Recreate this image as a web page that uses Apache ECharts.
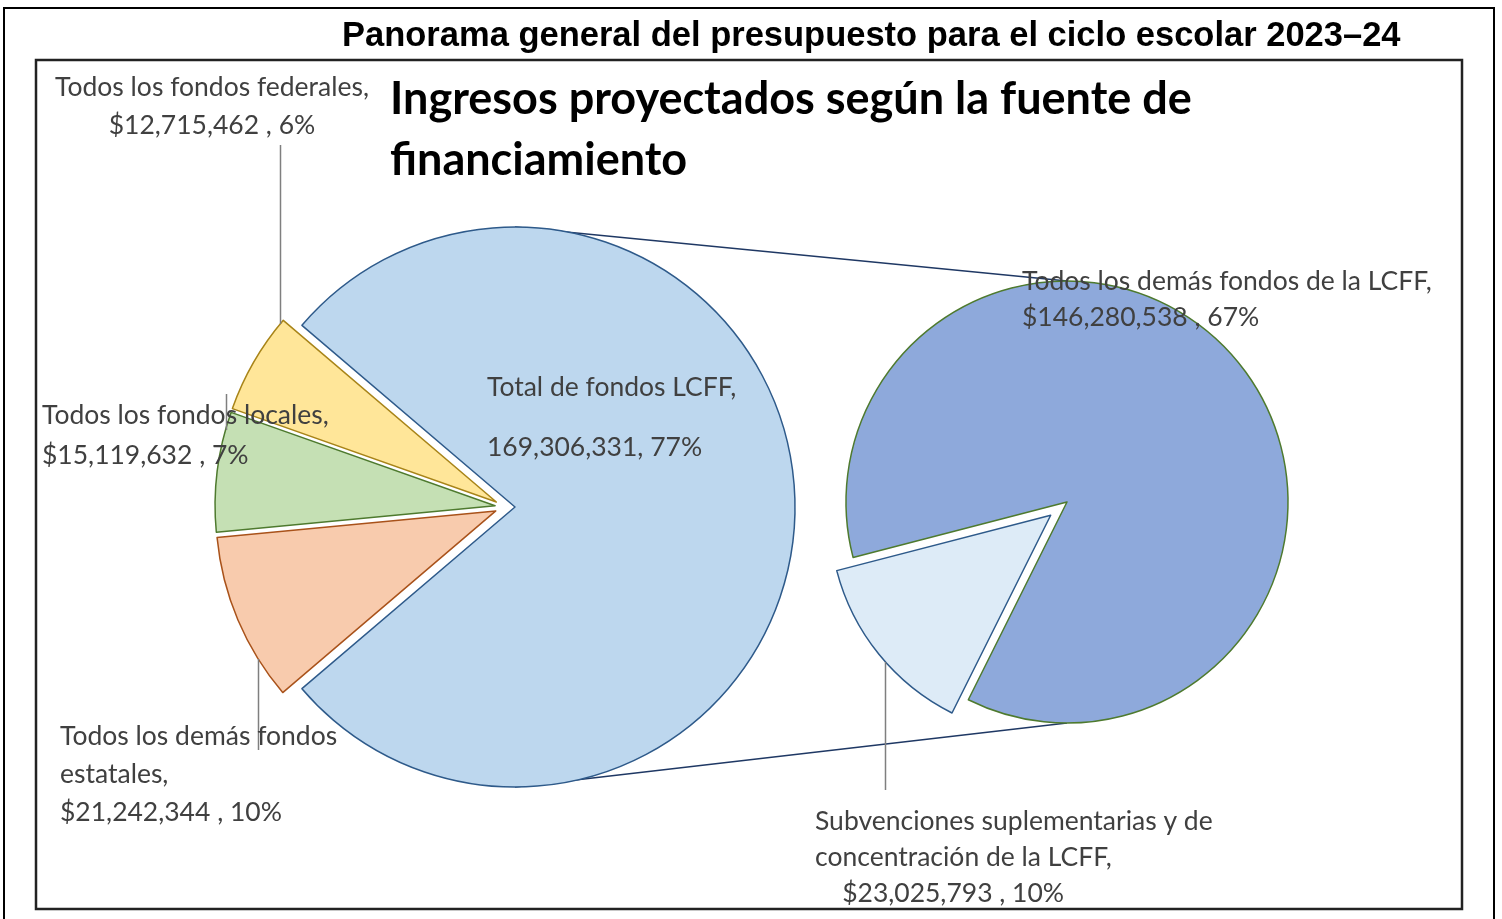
<!DOCTYPE html>
<html><head><meta charset="utf-8">
<script src="https://cdn.jsdelivr.net/npm/echarts@6/dist/echarts.min.js"></script>
<style>html,body{margin:0;padding:0;background:#fff}#c{width:1502px;height:919px}</style>
</head><body><div id="c"></div>
<script>
// ---- data ----
const mainTitle = 'Panorama general del presupuesto para el ciclo escolar 2023–24';
const subTitle = 'Ingresos proyectados según la fuente de\nfinanciamiento';
const mainCategories = ['Total de fondos LCFF', 'Todos los demás fondos estatales', 'Todos los fondos locales', 'Todos los fondos federales'];
const mainLabelNames = ['Total de fondos LCFF,\n', 'Todos los demás fondos\nestatales,', 'Todos los fondos locales,', 'Todos los fondos federales,'];
const mainValues = [169306331, 21242344, 15119632, 12715462];
const mainPercents = ['77%', '10%', '7%', '6%'];
const lcffCategories = ['Subvenciones suplementarias y de concentración de la LCFF', 'Todos los demás fondos de la LCFF'];
const lcffLabelNames = ['Subvenciones suplementarias y de\nconcentración de la LCFF,', 'Todos los demás fondos de la LCFF,'];
const lcffValues = [23025793, 146280538];
const lcffPercents = ['10%', '67%'];

// ---- styles / layout ----
const mainColors = ['#BDD7EE', '#F8CBAD', '#C5E0B4', '#FFE699'];
const mainBorders = ['#2E5A8A', '#A9521A', '#4E7A2E', '#A88418'];
const mainPrefix = ['', '$', '$', '$'];
const mainSep = [', ', ' , ', ' , ', ' , '];
// label block placement and leader line (fraction along the slice arc, end y)
const mainLabelPos = [
  {x: 487, y: 372, align: 'left', lh: 30, lead: null},
  {x: 60, y: 717, align: 'left', lh: 38, lead: {f: 0.24, y: 750}},
  {x: 42, y: 395, align: 'left', lh: 40, lead: {f: 0.85, y: 394}},
  {x: 212, y: 68, align: 'center', lh: 38, lead: {f: 0.95, y: 145}}
];
const lcffColors = ['#DDEBF7', '#8EA9DB'];
const lcffBorders = ['#2E5A8A', '#4E7A2E'];
const lcffPrefix = ['    $', '$'];
const lcffLabelPos = [
  {x: 815, y: 803, align: 'left', lh: 36, lead: {f: 0.45, y: 790}},
  {x: 1022, y: 263, align: 'left', lh: 36, lead: null}
];
const L = {cx: 505, cy: 507, r: 280, off: 10};
const R = {cx: 1067, cy: 502, r: 221, off: 21, mid: 219};
const labelFont = 'Lato';
const labelSize = 26.5;
const labelColor = '#404040';
const fmt = v => v.toLocaleString('en-US');

const mainTotal = mainValues.reduce((a, b) => a + b, 0);
const lcffTotal = lcffValues.reduce((a, b) => a + b, 0);
const mainStart = 360 * mainValues[0] / mainTotal / 2;
const lcffStart = R.mid + 360 * lcffValues[0] / lcffTotal / 2;

function item(name, value, color, border, selected) {
  const st = {color: color, borderColor: border, borderWidth: 1.5};
  return {
    name: name, value: value, selected: selected,
    itemStyle: st, select: {itemStyle: st}, emphasis: {disabled: true}
  };
}
const mainData = mainValues.map((v, i) => item(mainCategories[i], v, mainColors[i], mainBorders[i], true));
const lcffData = lcffValues.map((v, i) => item(lcffCategories[i], v, lcffColors[i], lcffBorders[i], i === 0));

// slice geometry, same rule as the pie series (clockwise from startAngle, selected slices offset)
function sliceGeom(values, start, P, selectedFlags) {
  const tot = values.reduce((a, b) => a + b, 0);
  let a = start;
  return values.map((v, i) => {
    const span = 360 * v / tot;
    const a0 = a, a1 = a - span;
    a = a1;
    const mid = (a0 + a1) / 2 * Math.PI / 180;
    const off = selectedFlags[i] ? P.off : 0;
    return {a0: a0, a1: a1, cx: P.cx + off * Math.cos(mid), cy: P.cy - off * Math.sin(mid), r: P.r};
  });
}
const mainGeom = sliceGeom(mainValues, mainStart, L, mainValues.map(() => true));
const lcffGeom = sliceGeom(lcffValues, lcffStart, R, lcffValues.map((v, i) => i === 0));

const frameEls = [
  {type: 'rect', z: 0, shape: {x: 4, y: 8, width: 1490, height: 930}, style: {fill: 'none', stroke: '#000', lineWidth: 2}},
  {type: 'rect', z: 0, shape: {x: 36, y: 60, width: 1426, height: 849}, style: {fill: 'none', stroke: '#222', lineWidth: 2.5}},
  {type: 'line', z: 1, shape: {x1: L.cx + L.off, y1: L.cy - L.r, x2: R.cx, y2: R.cy - R.r}, style: {stroke: '#1F3864', lineWidth: 1.5}},
  {type: 'line', z: 1, shape: {x1: L.cx + L.off, y1: L.cy + L.r, x2: R.cx, y2: R.cy + R.r}, style: {stroke: '#1F3864', lineWidth: 1.5}}
];
const leaderEls = [];
const textEls = [];
function addLabels(names, values, prefixes, seps, pcts, pos, geom) {
  names.forEach((n, i) => {
    const p = pos[i];
    if (p.lead) {
      const g = geom[i];
      const ang = (g.a0 + (g.a1 - g.a0) * p.lead.f) * Math.PI / 180;
      const px = Math.round(g.cx + g.r * Math.cos(ang)) + 0.5;
      const py = Math.round(g.cy - g.r * Math.sin(ang));
      leaderEls.push({type: 'polyline', z: 50, shape: {points: [[px, py], [px, p.lead.y]]},
        style: {stroke: '#7F7F7F', lineWidth: 1.5, fill: null}});
    }
    textEls.push({type: 'text', z: 100, x: p.x, y: p.y, style: {
      text: n + '\n' + prefixes[i] + fmt(values[i]) + seps[i] + pcts[i],
      fontFamily: labelFont, fontSize: labelSize, fill: labelColor,
      lineHeight: p.lh, align: p.align, verticalAlign: 'top'
    }});
  });
}
addLabels(mainLabelNames, mainValues, mainPrefix, mainSep, mainPercents, mainLabelPos, mainGeom);
addLabels(lcffLabelNames, lcffValues, lcffPrefix, [' , ', ' , '], lcffPercents, lcffLabelPos, lcffGeom);

const chart = echarts.init(document.getElementById('c'), null, {renderer: 'canvas'});
chart.setOption({
  animation: false,
  title: [
    {text: mainTitle, left: 337, top: 14,
     textStyle: {fontFamily: 'Liberation Sans', fontWeight: 'bold', fontSize: 34.5, color: '#000'}},
    {text: subTitle, left: 385, top: 64,
     textStyle: {fontFamily: 'Lato', fontWeight: 'bold', fontSize: 45, lineHeight: 61, color: '#000'}}
  ],
  graphic: [
    {type: 'group', z: 0, children: frameEls},
    {type: 'group', z: 50, children: leaderEls},
    {type: 'group', z: 100, children: textEls}
  ],
  series: [
    {
      type: 'pie', center: [L.cx, L.cy], radius: [0, L.r], startAngle: mainStart,
      selectedMode: 'multiple', selectedOffset: L.off, avoidLabelOverlap: false,
      label: {show: false}, labelLine: {show: false},
      data: mainData
    },
    {
      type: 'pie', center: [R.cx, R.cy], radius: [0, R.r], startAngle: lcffStart,
      selectedMode: 'multiple', selectedOffset: R.off, avoidLabelOverlap: false,
      label: {show: false}, labelLine: {show: false},
      data: lcffData
    }
  ]
});
</script>
</body></html>
